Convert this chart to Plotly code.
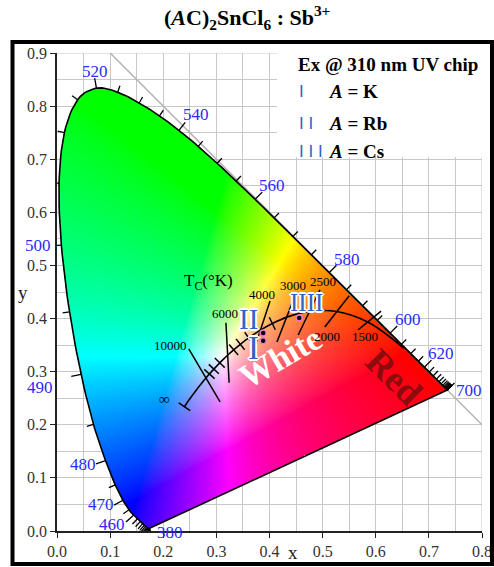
import base64, struct, zlib
import numpy as np
import plotly.graph_objects as go

# ---------------- data ----------------
wavelengths = list(range(380, 705, 5))
locus_x = [0.1741, 0.1740, 0.1738, 0.1736, 0.1733, 0.1730, 0.1726, 0.1721, 0.1714, 0.1703,
           0.1689, 0.1669, 0.1644, 0.1611, 0.1566, 0.1510, 0.1440, 0.1355, 0.1241, 0.1096,
           0.0913, 0.0687, 0.0454, 0.0235, 0.0082, 0.0039, 0.0139, 0.0389, 0.0743, 0.1142,
           0.1547, 0.1929, 0.2296, 0.2658, 0.3016, 0.3373, 0.3731, 0.4087, 0.4441, 0.4788,
           0.5125, 0.5448, 0.5752, 0.6029, 0.6270, 0.6482, 0.6658, 0.6801, 0.6915, 0.7006,
           0.7079, 0.7140, 0.7190, 0.7230, 0.7260, 0.7283, 0.7300, 0.7311, 0.7320, 0.7327,
           0.7334, 0.7340, 0.7344, 0.7346, 0.7347]
locus_y = [0.0050, 0.0050, 0.0049, 0.0049, 0.0048, 0.0048, 0.0048, 0.0048, 0.0051, 0.0058,
           0.0069, 0.0086, 0.0109, 0.0138, 0.0177, 0.0227, 0.0297, 0.0399, 0.0578, 0.0868,
           0.1327, 0.2007, 0.2950, 0.4127, 0.5384, 0.6548, 0.7502, 0.8120, 0.8338, 0.8262,
           0.8059, 0.7816, 0.7543, 0.7243, 0.6923, 0.6589, 0.6245, 0.5896, 0.5547, 0.5202,
           0.4866, 0.4544, 0.4242, 0.3965, 0.3725, 0.3514, 0.3340, 0.3197, 0.3083, 0.2993,
           0.2920, 0.2859, 0.2809, 0.2770, 0.2740, 0.2717, 0.2700, 0.2689, 0.2680, 0.2673,
           0.2666, 0.2660, 0.2656, 0.2654, 0.2653]
labeled_wl = [380, 460, 470, 480, 490, 500, 520, 540, 560, 580, 600, 620, 700]

planck_T = ["1000", "1500", "2000", "2500", "3000", "3500", "4000", "4500", "5000", "5500",
            "6000", "6500", "7000", "8000", "9000", "10000", "12000", "15000", "20000",
            "30000", "inf"]
planck_x = [0.6527, 0.5857, 0.5267, 0.4770, 0.4369, 0.4053, 0.3805, 0.3608, 0.3451, 0.3325,
            0.3221, 0.3135, 0.3064, 0.2952, 0.2869, 0.2807, 0.2719, 0.2637, 0.2565, 0.2501,
            0.2399]
planck_y = [0.3445, 0.3931, 0.4133, 0.4137, 0.4041, 0.3907, 0.3768, 0.3636, 0.3516, 0.3411,
            0.3318, 0.3237, 0.3166, 0.3048, 0.2956, 0.2884, 0.2778, 0.2675, 0.2577, 0.2489,
            0.2340]
short_tick_T = ["9000", "8000", "7000", "5500", "5000", "4500", "3500", "inf"]

iso_T = ["10000", "6000", "4000", "3000", "2500", "2000", "1500"]
iso_x0 = [0.248, 0.318, 0.401, 0.446, 0.495, 0.550, 0.610]
iso_y0 = [0.343, 0.392, 0.433, 0.438, 0.454, 0.443, 0.414]
iso_x1 = [0.307, 0.324, 0.367, 0.414, 0.454, 0.504, 0.567]
iso_y1 = [0.243, 0.279, 0.330, 0.356, 0.369, 0.384, 0.379]

samples = ["K", "Rb", "Cs"]
sample_x = [0.388, 0.388, 0.456]
sample_y = [0.358, 0.373, 0.401]
sample_mark = ["I", "II", "IIII"]

# ---------------- layout constants (positions of text, in data units) ----------------
XR = [0, 0.8]
YR = [0, 0.9]
wl_label_pos = {380: (0.212, -0.002), 460: (0.104, 0.013), 470: (0.083, 0.049),
                480: (0.049, 0.126), 490: (-0.032, 0.271), 500: (-0.036, 0.537),
                520: (0.072, 0.866), 540: (0.262, 0.785), 560: (0.405, 0.651),
                580: (0.546, 0.512), 600: (0.661, 0.399), 620: (0.723, 0.335),
                700: (0.776, 0.265)}
iso_label_pos = {"10000": (0.213, 0.350), "6000": (0.316, 0.410), "4000": (0.386, 0.446),
                 "3000": (0.444, 0.463), "2500": (0.501, 0.469), "2000": (0.508, 0.367),
                 "1500": (0.580, 0.367)}
mark_pos = {"I": (0.369, 0.345), "II": (0.360, 0.399), "IIII": (0.469, 0.430)}
mark_size = {"I": 33, "II": 29, "IIII": 25}

SERIF = "Liberation Serif, Times New Roman, serif"
BLUE = "#2a2aff"
BAR = "#3563c4"


def pap(x, y, xanchor="center"):
    """data position -> paper position (so labels outside the axis ranges still show)"""
    return dict(xref="paper", yref="paper", x=(x - XR[0]) / (XR[1] - XR[0]),
                y=(y - YR[0]) / (YR[1] - YR[0]), xanchor=xanchor, yanchor="middle")


def catmull(xs, ys, n=8):
    pts = np.column_stack([xs, ys])
    pts = np.vstack([pts[0], pts, pts[-1]])
    out = []
    for i in range(1, len(pts) - 2):
        p0, p1, p2, p3 = pts[i - 1], pts[i], pts[i + 1], pts[i + 2]
        for t in np.linspace(0, 1, n, endpoint=False):
            out.append(0.5 * ((2 * p1) + (-p0 + p2) * t + (2 * p0 - 5 * p1 + 4 * p2 - p3) * t * t
                              + (-p0 + 3 * p1 - 3 * p2 + p3) * t ** 3))
    out.append(pts[-2])
    return np.array(out)


# ---------------- gamut image ----------------
res = 0.002
W, H = 370, 420
gx = (np.arange(W) + 0.5) * res
gy = (np.arange(H) + 0.5) * res
GX, GY = np.meshgrid(gx, gy)
Xc = GX / GY
Zc = (1 - GX - GY) / GY
R = 3.2406 * Xc - 1.5372 - 0.4986 * Zc
G = -0.9689 * Xc + 1.8758 + 0.0415 * Zc
B = 0.0557 * Xc - 0.2040 + 1.0570 * Zc
rgb = np.clip(np.stack([R, G, B], -1), 0, None)
rgb = rgb / np.maximum(rgb.max(-1, keepdims=True), 1e-9)
rgb = np.power(rgb, 1 / 1.35)
outline_pts = catmull(locus_x, locus_y)
px_ = np.append(outline_pts[:, 0], outline_pts[0, 0])
py_ = np.append(outline_pts[:, 1], outline_pts[0, 1])
inside = np.zeros(GX.shape, bool)
for i in range(len(px_) - 1):
    x1, y1, x2, y2 = px_[i], py_[i], px_[i + 1], py_[i + 1]
    if y1 == y2:
        continue
    cond = ((y1 > GY) != (y2 > GY)) & (GX < (x2 - x1) * (GY - y1) / (y2 - y1) + x1)
    inside ^= cond
rgba = np.zeros((H, W, 4), np.uint8)
rgba[..., :3] = np.clip(rgb * 255 + 0.5, 0, 255).astype(np.uint8)
rgba[..., 3] = np.where(inside, 255, 0).astype(np.uint8)


def to_png(arr):
    h, w, _ = arr.shape
    raw = b"".join(b"\x00" + arr[i].tobytes() for i in range(h))

    def chunk(t, d):
        c = struct.pack(">I", len(d)) + t + d
        return c + struct.pack(">I", zlib.crc32(t + d) & 0xFFFFFFFF)

    return (b"\x89PNG\r\n\x1a\n" + chunk(b"IHDR", struct.pack(">IIBBBBB", w, h, 8, 6, 0, 0, 0))
            + chunk(b"IDAT", zlib.compress(raw, 9)) + chunk(b"IEND", b""))


src = "data:image/png;base64," + base64.b64encode(to_png(rgba)).decode()

fig = go.Figure()

fig.add_trace(go.Scatter(x=[0.1, 0.8], y=[0.9, 0.2], mode="lines",
                         line=dict(color="#b4b4b4", width=1.5), hoverinfo="skip"))
fig.add_trace(go.Image(source=src, x0=res / 2, dx=res, y0=res / 2, dy=res, hoverinfo="skip"))

fig.add_trace(go.Scatter(x=list(px_), y=list(py_), mode="lines",
                         line=dict(color="black", width=1.6), hoverinfo="skip"))

P = np.column_stack([locus_x, locus_y])
tx, ty = [], []
for i, wl in enumerate(wavelengths):
    a = P[max(i - 1, 0)]
    b = P[min(i + 1, len(P) - 1)]
    t = b - a
    n = np.array([-t[1], t[0]])
    n = n / (np.hypot(*n) + 1e-12)
    L = 0.019 if wl in labeled_wl else 0.013
    tx += [P[i, 0], P[i, 0] + n[0] * L, None]
    ty += [P[i, 1], P[i, 1] + n[1] * L, None]
fig.add_trace(go.Scatter(x=tx, y=ty, mode="lines", line=dict(color="black", width=1.3),
                         hoverinfo="skip"))

fig.add_trace(go.Scatter(x=planck_x, y=planck_y, mode="lines",
                         line=dict(color="black", width=1.6, shape="spline"), hoverinfo="skip"))
Q = np.column_stack([planck_x, planck_y])
sx, sy = [], []
for T in short_tick_T:
    i = planck_T.index(T)
    a = Q[max(i - 1, 0)]
    b = Q[min(i + 1, len(Q) - 1)]
    t = b - a
    n = np.array([-t[1], t[0]])
    n = n / np.hypot(*n)
    L = 0.013
    sx += [Q[i, 0] - n[0] * L, Q[i, 0] + n[0] * L, None]
    sy += [Q[i, 1] - n[1] * L, Q[i, 1] + n[1] * L, None]
for k in range(len(iso_T)):
    sx += [iso_x0[k], iso_x1[k], None]
    sy += [iso_y0[k], iso_y1[k], None]
fig.add_trace(go.Scatter(x=sx, y=sy, mode="lines", line=dict(color="black", width=1.5),
                         hoverinfo="skip"))

fig.add_trace(go.Scatter(x=sample_x, y=sample_y, mode="markers",
                         marker=dict(color="black", size=6, line=dict(color="#f07ac8", width=1.5)),
                         hoverinfo="skip"))

ann = []
ann.append(dict(**pap(0.420, 0.327), text="<b>White</b>", showarrow=False, textangle=-30,
                font=dict(family=SERIF, size=34, color="white")))
ann.append(dict(**pap(0.634, 0.290), text="<b>Red</b>", showarrow=False, textangle=45,
                font=dict(family=SERIF, size=36, color="#8a0c0c")))
for wl in labeled_wl:
    ann.append(dict(**pap(*wl_label_pos[wl]), text=str(wl), showarrow=False,
                    font=dict(family=SERIF, size=17, color=BLUE)))
for T in iso_T:
    ann.append(dict(**pap(*iso_label_pos[T]), text=T, showarrow=False,
                    font=dict(family=SERIF, size=13, color="black")))
ann.append(dict(**pap(0.203, 0.249), text="∞", showarrow=False,
                font=dict(family=SERIF, size=15, color="black")))
ann.append(dict(**pap(0.286, 0.469), text="T<sub>C</sub>(°K)", showarrow=False,
                font=dict(family=SERIF, size=17, color="black")))
outline = ("2px 0 0 #fff, -2px 0 0 #fff, 0 2px 0 #fff, 0 -2px 0 #fff, "
           "1px 1px 0 #fff, -1px -1px 0 #fff, 1px -1px 0 #fff, -1px 1px 0 #fff")
for m in sample_mark:
    ann.append(dict(**pap(*mark_pos[m]), text=m, showarrow=False,
                    font=dict(family=SERIF, size=mark_size[m], color=BAR, shadow=outline)))

ann.append(dict(**pap(0.450, 0.879, "left"), text="<b>Ex @ 310 nm UV chip</b>",
                showarrow=False, font=dict(family=SERIF, size=19, color="black")))
leg_bars = ["I", "I I", "I I I"]
leg_y = [0.827, 0.768, 0.714]
for s, bars, y in zip(samples, leg_bars, leg_y):
    ann.append(dict(**pap(0.452, y, "left"), text=bars, showarrow=False,
                    font=dict(family="Liberation Sans, Arial", size=17, color=BAR)))
    ann.append(dict(**pap(0.509, y, "left"), text="<b><i>A</i> = %s</b>" % s, showarrow=False,
                    font=dict(family=SERIF, size=19, color="black")))

ann.append(dict(**pap(0.444, -0.041), text="x", showarrow=False,
                font=dict(family=SERIF, size=19, color="#222")))
ann.append(dict(**pap(-0.064, 0.45), text="y", showarrow=False,
                font=dict(family=SERIF, size=19, color="#222")))
ann.append(dict(xref="paper", yref="paper", x=0.447, y=1.075, xanchor="center",
                yanchor="middle",
                text="<b>(<i>A</i>C)<sub>2</sub>SnCl<sub>6</sub> : Sb<sup>3+</sup></b>",
                showarrow=False, font=dict(family=SERIF, size=22, color="black")))

shapes = [
    dict(type="line", xref="x", yref="y", x0=0.8, x1=0.8, y0=0, y1=0.9,
         line=dict(color="#c8c8c8", width=1), layer="below"),
    dict(type="line", xref="x", yref="y", x0=0, x1=0.8, y0=0.9, y1=0.9,
         line=dict(color="#c8c8c8", width=1), layer="below"),
    dict(type="rect", xref="x", yref="y", x0=0.414, x1=0.84, y0=0.704, y1=0.93,
         fillcolor="white", line=dict(width=0), layer="above"),
    dict(type="rect", xref="paper", yref="paper", x0=-0.1047, x1=1.0235, y0=-0.069, y1=1.023,
         line=dict(color="black", width=4), fillcolor="rgba(0,0,0,0)", layer="above"),
]

axis_common = dict(showgrid=True, gridcolor="#c8c8c8", gridwidth=1,
                   minor=dict(dtick=0.05, showgrid=True, gridcolor="#c8c8c8", gridwidth=1),
                   showline=True, linecolor="#222", linewidth=1.5, ticks="outside", ticklen=5,
                   tickcolor="#222", tickformat=".1f", zeroline=False, constrain="range",
                   automargin=False, domain=[0, 1],
                   tickfont=dict(family=SERIF, size=16, color="#333"), dtick=0.1, tick0=0)

fig.update_layout(
    width=494, height=567, margin=dict(l=57, r=12, t=53, b=36, autoexpand=False),
    paper_bgcolor="white", plot_bgcolor="white", showlegend=False,
    xaxis=dict(range=XR, autorange=False, scaleanchor=False, **axis_common),
    yaxis=dict(range=YR, autorange=False, scaleanchor=False, **axis_common),
    annotations=ann, shapes=shapes,
)
fig.write_html("out.html")
